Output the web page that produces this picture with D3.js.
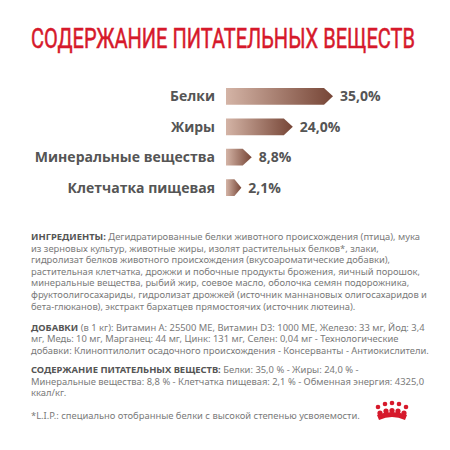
<!DOCTYPE html>
<html><head><meta charset="utf-8">
<script src="https://cdn.jsdelivr.net/npm/d3@7"></script>
<style>body{margin:0;background:#fff}</style>
</head><body><svg id="c" width="450" height="450"></svg>
<script>
var categories = ['Белки', 'Жиры', 'Минеральные вещества', 'Клетчатка пищевая'];
var values = [35.0, 24.0, 8.8, 2.1];
var valueLabels = ['35,0%', '24,0%', '8,8%', '2,1%'];

var ingredients = [
  ['ИНГРЕДИЕНТЫ:', ' Дегидратированные белки животного происхождения (птица), мука'],
  ['', 'из зерновых культур, животные жиры, изолят растительных белков*, злаки,'],
  ['', 'гидролизат белков животного происхождения (вкусоароматические добавки),'],
  ['', 'растительная клетчатка, дрожжи и побочные продукты брожения, яичный порошок,'],
  ['', 'минеральные вещества, рыбий жир, соевое масло, оболочка семян подорожника,'],
  ['', 'фруктоолигосахариды, гидролизат дрожжей (источник маннановых олигосахаридов и'],
  ['', 'бета-глюканов), экстракт бархатцев прямостоячих (источник лютеина).']
];
var additives = [
  ['ДОБАВКИ', ' (в 1 кг): Витамин А: 25500 МЕ, Витамин D3: 1000 МЕ, Железо: 33 мг, Йод: 3,4'],
  ['', 'мг, Медь: 10 мг, Марганец: 44 мг, Цинк: 131 мг, Селен: 0,04 мг - Технологические'],
  ['', 'добавки: Клиноптилолит осадочного происхождения - Консерванты - Антиокислители.']
];
var nutrients = [
  ['СОДЕРЖАНИЕ ПИТАТЕЛЬНЫХ ВЕЩЕСТВ:', ' Белки: 35,0 % - Жиры: 24,0 % -'],
  ['', 'Минеральные вещества: 8,8 % - Клетчатка пищевая: 2,1 % - Обменная энергия: 4325,0'],
  ['', 'ккал/кг.']
];
var footnote = '*L.I.P.: специально отобранные белки с высокой степенью усвояемости.';

var svg = d3.select('#c');
var defs = svg.append('defs');
var grad = defs.append('linearGradient').attr('id', 'g').attr('x1', 0).attr('x2', 1);
grad.append('stop').attr('offset', 0).attr('stop-color', '#d4b4a6');
grad.append('stop').attr('offset', 1).attr('stop-color', '#764536');

svg.append('text').attr('x', 31).attr('y', 48)
  .attr('font-family', 'Liberation Sans Narrow, Roboto, sans-serif')
  .attr('font-size', 27).attr('fill', '#d6192b')
  .attr('stroke', '#d6192b').attr('stroke-width', 0.5)
  .attr('textLength', 384).attr('lengthAdjust', 'spacingAndGlyphs')
  .text('СОДЕРЖАНИЕ ПИТАТЕЛЬНЫХ ВЕЩЕСТВ');

var x0 = 226;
var xs = d3.scalePow().exponent(1.5).domain([0, 35]).range([14, 107]);
var y = d3.scaleBand().domain(categories).range([88, 196]).paddingInner(0.45);

var row = svg.selectAll('g.row').data(categories).enter().append('g')
  .attr('transform', function (d) { return 'translate(0,' + y(d) + ')'; });
row.append('path').attr('fill', 'url(#g)').attr('d', function (d, i) {
  var w = xs(values[i]), h = y.bandwidth(), t = Math.min(9, w * 0.45);
  return 'M' + x0 + ',0H' + (x0 + w - t) + 'L' + (x0 + w) + ',' + h / 2 + 'L' + (x0 + w - t) + ',' + h + 'H' + x0 + 'Z';
});
row.append('text').attr('x', 215).attr('y', y.bandwidth() / 2 + 5)
  .attr('text-anchor', 'end').attr('font-family', 'Open Sans, sans-serif')
  .attr('font-weight', 'bold').attr('font-size', 14).attr('fill', '#555')
  .text(function (d) { return d; });
row.append('text').attr('x', function (d, i) { return x0 + xs(values[i]) + 7; })
  .attr('y', y.bandwidth() / 2 + 5).attr('font-family', 'Open Sans, sans-serif')
  .attr('font-weight', 'bold').attr('font-size', 14).attr('fill', '#555')
  .text(function (d, i) { return valueLabels[i]; });

function block(lines, y0) {
  lines.forEach(function (l, i) {
    var t = svg.append('text').attr('x', 31).attr('y', y0 + i * 11.6)
      .attr('font-family', 'Noto Sans, sans-serif').attr('font-size', 9.4).attr('fill', '#7a7a7a');
    if (l[0]) t.append('tspan').attr('font-weight', 'bold').attr('fill', '#555').text(l[0]);
    t.append('tspan').text(l[1]);
  });
}
block(ingredients, 240);
block(additives, 330.5);
block(nutrients, 373);
svg.append('text').attr('x', 31).attr('y', 419).attr('font-family', 'Noto Sans, sans-serif')
  .attr('font-size', 9.4).attr('fill', '#7a7a7a').text(footnote);

// crown
var crown = svg.append('g').attr('fill', '#d6192b');
[[378, 407], [385, 404], [392, 403], [399, 404], [406, 407]].forEach(function (p) {
  crown.append('circle').attr('cx', p[0]).attr('cy', p[1]).attr('r', 2.3);
});
[[380, 413], [386, 411], [392, 410.5], [398, 411], [404, 413]].forEach(function (p) {
  crown.append('circle').attr('cx', p[0]).attr('cy', p[1]).attr('r', 2.6);
});
crown.append('path').attr('d', 'M377,415Q392,409 407,415L405,420Q392,414 379,420Z');
</script></body></html>
